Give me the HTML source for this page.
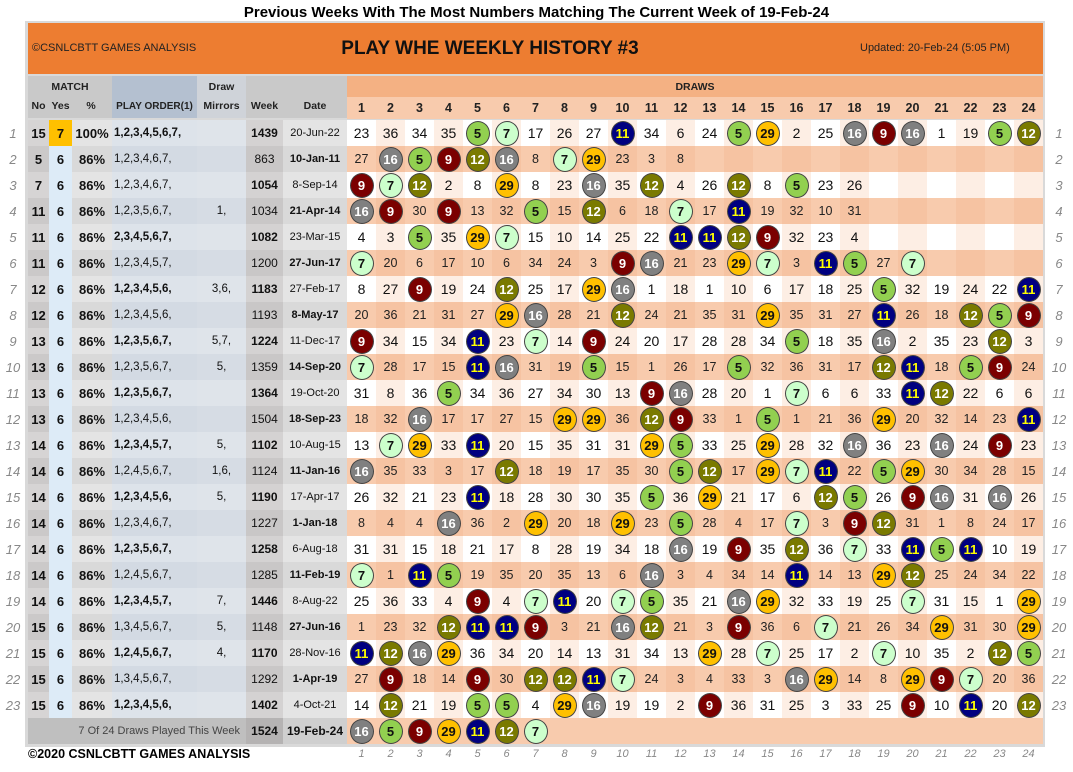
<!DOCTYPE html>
<html><head><meta charset="utf-8">
<style>
body{margin:0;background:#fff;width:1073px;height:772px;overflow:hidden;position:relative;font-family:"Liberation Sans",Arial,sans-serif;}
.a{position:absolute;box-sizing:border-box;}
.t{position:absolute;display:flex;align-items:center;justify-content:center;white-space:nowrap;}
.ball{position:absolute;border-radius:50%;border:1px solid #444;display:flex;align-items:center;justify-content:center;font-size:13px;font-weight:bold;box-sizing:border-box;}
</style></head><body>
<div class="t" style="left:0;top:2px;width:1073px;height:20px;font-size:15px;font-weight:bold;">Previous Weeks With The Most Numbers Matching The Current Week of 19-Feb-24</div>
<div class="a" style="left:25px;top:21px;width:1020px;height:726px;background:#d9d9d9;"></div>
<div class="a" style="left:28px;top:23px;width:1015px;height:51px;background:#ed7d31;"></div>
<div class="t" style="left:32px;top:38px;height:20px;font-size:11px;color:#222;">©CSNLCBTT GAMES ANALYSIS</div>
<div class="t" style="left:340px;top:36px;width:300px;height:26px;font-size:19px;font-weight:bold;color:#111;">PLAY WHE WEEKLY HISTORY #3</div>
<div class="t" style="left:860px;top:38px;height:20px;font-size:11px;color:#222;">Updated: 20-Feb-24 (5:05 PM)</div>
<div id="g"></div>
<div class="t" style="left:28px;top:745px;height:18px;font-size:12.5px;font-weight:bold;">©2020 CSNLCBTT GAMES ANALYSIS</div>
<script>
const noVals=[15,5,7,11,11,11,12,12,13,13,13,13,14,14,14,14,14,14,14,15,15,15,15];
const yesVals=[7,6,6,6,6,6,6,6,6,6,6,6,6,6,6,6,6,6,6,6,6,6,6];
const pctVals=["100%","86%","86%","86%","86%","86%","86%","86%","86%","86%","86%","86%","86%","86%","86%","86%","86%","86%","86%","86%","86%","86%","86%"];
const playOrders=["1,2,3,4,5,6,7,","1,2,3,4,6,7,","1,2,3,4,6,7,","1,2,3,5,6,7,","2,3,4,5,6,7,","1,2,3,4,5,7,","1,2,3,4,5,6,","1,2,3,4,5,6,","1,2,3,5,6,7,","1,2,3,5,6,7,","1,2,3,5,6,7,","1,2,3,4,5,6,","1,2,3,4,5,7,","1,2,4,5,6,7,","1,2,3,4,5,6,","1,2,3,4,6,7,","1,2,3,5,6,7,","1,2,4,5,6,7,","1,2,3,4,5,7,","1,3,4,5,6,7,","1,2,4,5,6,7,","1,3,4,5,6,7,","1,2,3,4,5,6,"];
const mirrors=["","","","1,","","","3,6,","","5,7,","5,","","","5,","1,6,","5,","","","","7,","5,","4,","",""];
const weeks=[1439,863,1054,1034,1082,1200,1183,1193,1224,1359,1364,1504,1102,1124,1190,1227,1258,1285,1446,1148,1170,1292,1402,1524];
const dates=["20-Jun-22","10-Jan-11","8-Sep-14","21-Apr-14","23-Mar-15","27-Jun-17","27-Feb-17","8-May-17","11-Dec-17","14-Sep-20","19-Oct-20","18-Sep-23","10-Aug-15","11-Jan-16","17-Apr-17","1-Jan-18","6-Aug-18","11-Feb-19","8-Aug-22","27-Jun-16","28-Nov-16","1-Apr-19","4-Oct-21","19-Feb-24"];
const draws=[
[23,36,34,35,5,7,17,26,27,11,34,6,24,5,29,2,25,16,9,16,1,19,5,12],
[27,16,5,9,12,16,8,7,29,23,3,8],
[9,7,12,2,8,29,8,23,16,35,12,4,26,12,8,5,23,26],
[16,9,30,9,13,32,5,15,12,6,18,7,17,11,19,32,10,31],
[4,3,5,35,29,7,15,10,14,25,22,11,11,12,9,32,23,4],
[7,20,6,17,10,6,34,24,3,9,16,21,23,29,7,3,11,5,27,7],
[8,27,9,19,24,12,25,17,29,16,1,18,1,10,6,17,18,25,5,32,19,24,22,11],
[20,36,21,31,27,29,16,28,21,12,24,21,35,31,29,35,31,27,11,26,18,12,5,9],
[9,34,15,34,11,23,7,14,9,24,20,17,28,28,34,5,18,35,16,2,35,23,12,3],
[7,28,17,15,11,16,31,19,5,15,1,26,17,5,32,36,31,17,12,11,18,5,9,24],
[31,8,36,5,34,36,27,34,30,13,9,16,28,20,1,7,6,6,33,11,12,22,6,6],
[18,32,16,17,17,27,15,29,29,36,12,9,33,1,5,1,21,36,29,20,32,14,23,11],
[13,7,29,33,11,20,15,35,31,31,29,5,33,25,29,28,32,16,36,23,16,24,9,23],
[16,35,33,3,17,12,18,19,17,35,30,5,12,17,29,7,11,22,5,29,30,34,28,15],
[26,32,21,23,11,18,28,30,30,35,5,36,29,21,17,6,12,5,26,9,16,31,16,26],
[8,4,4,16,36,2,29,20,18,29,23,5,28,4,17,7,3,9,12,31,1,8,24,17],
[31,31,15,18,21,17,8,28,19,34,18,16,19,9,35,12,36,7,33,11,5,11,10,19],
[7,1,11,5,19,35,20,35,13,6,16,3,4,34,14,11,14,13,29,12,25,24,34,22],
[25,36,33,4,9,4,7,11,20,7,5,35,21,16,29,32,33,19,25,7,31,15,1,29],
[1,23,32,12,11,11,9,3,21,16,12,21,3,9,36,6,7,21,26,34,29,31,30,29],
[11,12,16,29,36,34,20,14,13,31,34,13,29,28,7,25,17,2,7,10,35,2,12,5],
[27,9,18,14,9,30,12,12,11,7,24,3,4,33,3,16,29,14,8,29,9,7,20,36],
[14,12,21,19,5,5,4,29,16,19,19,2,9,36,31,25,3,33,25,9,10,11,20,12],
[16,5,9,29,11,12,7]
];
const ballStyles={5:["#92d050","#111"],7:["#ccffcc","#111"],9:["#7b0000","#fff"],11:["#000080","#ffff00"],12:["#7a7a00","#fff"],16:["#808080","#fff"],29:["#ffc000","#111"]};

const g=document.getElementById('g');
const ROW0=120, RH=26, DX=347, CW=29;
function rowY(i){return ROW0+i*RH;}
function colX(j){return DX+j*CW;}
function box(x,y,w,h,bg){const d=document.createElement('div');d.className='a';d.style.cssText=`left:${x}px;top:${y}px;width:${w}px;height:${h}px;background:${bg};`;g.appendChild(d);return d;}
function txt(x,y,w,h,s,css){const d=document.createElement('div');d.className='t';d.style.cssText=`left:${x}px;top:${y}px;width:${w}px;height:${h}px;`+(css||'');d.textContent=s;g.appendChild(d);return d;}

let h;
h=box(28,76,84,42,'#c9c9c9');
h=box(112,76,85,42,'#b4c0d0');
h=box(197,76,49,42,'#cfd3d9');
h=box(246,76,101,42,'#c9c9c9');
h=box(347,76,696,21,'#f4b183');
h=box(347,97,696,22,'#f8cbad');
const hb='font-size:10.5px;font-weight:bold;color:#222;';
h=txt(28,78,84,18,'MATCH',hb);
h=txt(28,96,21,20,'No',hb);
h=txt(49,96,23,20,'Yes',hb);
h=txt(72,96,38,20,'%',hb);
h=txt(112,96,85,20,'PLAY ORDER(1)',hb+'font-size:10px;');
h=txt(197,78,49,18,'Draw',hb);
h=txt(197,96,49,20,'Mirrors',hb);
h=txt(246,96,37,20,'Week',hb);
h=txt(283,96,64,20,'Date',hb);
h=txt(347,77,696,20,'DRAWS',hb);
for(let j=0;j<24;j++){
  h=txt(colX(j),98,CW,20,String(j+1),'font-size:12.5px;font-weight:bold;color:#222;');
  
  h=txt(colX(j),745,CW,18,String(j+1),'font-size:11px;font-style:italic;color:#888;');
  
}
for(let i=0;i<24;i++){
  const y=rowY(i), odd=i%2===0, cur=i===23;
  if(!cur){
    h=txt(0,y,26,RH,String(i+1),'font-size:13px;font-style:italic;color:#888;');
    h=txt(1046,y,26,RH,String(i+1),'font-size:13px;font-style:italic;color:#888;');
    box(28,y,21,RH,odd?'#d6d4d4':'#cbc9c9');
    box(49,y,23,RH,i===0?'#ffc000':'#ddebf7');
    box(72,y,40,RH,odd?'#e4e4e4':'#d9d9d9');
    box(112,y,85,RH,odd?'#dde3ea':'#d3dae3');
    box(197,y,49,RH,odd?'#dfe4ea':'#d6dce4');
    box(246,y,37,RH,odd?'#d4d2d2':'#c9c7c7');
    box(283,y,64,RH,odd?'#e4e4e4':'#d9d9d9');
    const b='font-size:13px;font-weight:bold;color:#111;';
    h=txt(28,y,21,RH,String(noVals[i]),b);
    h=txt(49,y,23,RH,String(yesVals[i]),b);
    h=txt(72,y,40,RH,pctVals[i],b);
    const pb=(odd&&i!==2);
    h=txt(114,y,83,RH,playOrders[i],'justify-content:flex-start;font-size:11.5px;color:#111;'+(pb?'font-weight:bold;':''));
    h=txt(197,y,49,RH,mirrors[i],'font-size:11.5px;color:#111;');
  } else {
    h=box(28,y,218,RH,'#bfbfbf');
    h=txt(28,y,218,RH,'7 Of 24 Draws Played This Week','justify-content:flex-end;padding-right:6px;box-sizing:border-box;font-size:11px;color:#444;');
    box(246,y,37,RH,'#b5b3b3');box(283,y,64,RH,'#cfcfcf');
  }
  h=txt(246,y,37,RH,String(weeks[i]),'font-size:12px;color:#111;'+((odd||cur)?'font-weight:bold;':''));
  h=txt(283,y,64,RH,dates[i],(cur?'font-size:12px;':'font-size:11px;')+'color:#111;'+((!odd||cur)?'font-weight:bold;':''));
  for(let j=0;j<24;j++){
    let bg;
    if(cur) bg='#f8cbad';
    else if(odd) bg=(j%2===0)?'#ffffff':'#fdeee4';
    else bg=(j%2===0)?'#f8cbad':'#f6c3a2';
    box(colX(j),y,CW,RH,bg);
  }
  const row=draws[i];
  for(let j=0;j<row.length;j++){
    const v=row[j], st=ballStyles[v];
    if(st){
      const d=document.createElement('div');d.className='ball';
      d.style.cssText=`left:${colX(j)+2.5}px;top:${y+0.5}px;width:24px;height:25px;background:${st[0]};color:${st[1]};`;
      d.textContent=v;
      
      
      g.appendChild(d);
    } else {
      h=txt(colX(j),y,CW,RH,String(v),odd?'font-size:14px;color:#111;':'font-size:12.5px;color:#222;');
      
      
    }
  }
}
</script>
</body></html>
